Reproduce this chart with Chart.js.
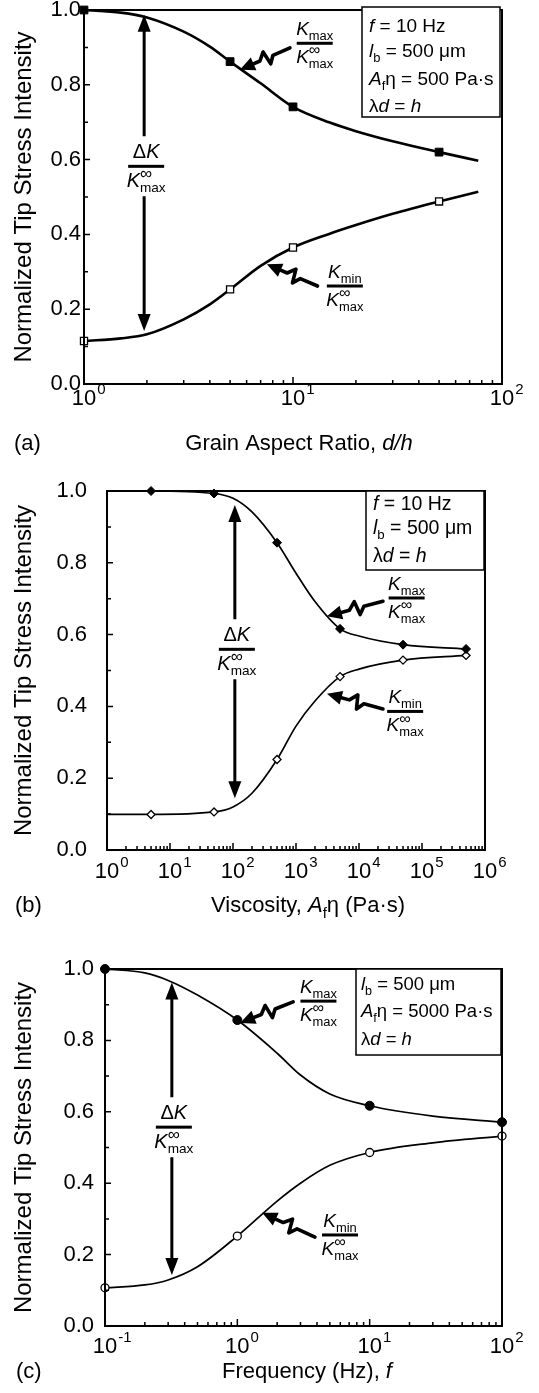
<!DOCTYPE html>
<html>
<head>
<meta charset="utf-8">
<title>Normalized Tip Stress Intensity</title>
<script src="https://cdn.jsdelivr.net/npm/chart.js@4.4.1/dist/chart.umd.min.js"></script>
<style>
  body { margin: 0; background: #fff; }
  #page { position: relative; width: 539px; height: 1393px; overflow: hidden; background: #fff; }
  canvas { position: absolute; left: 0; }
</style>
</head>
<body>
<div id="page">
  <canvas id="chartA" width="539" height="480" style="top:-20px"></canvas>
  <canvas id="chartB" width="539" height="460" style="top:460px"></canvas>
  <canvas id="chartC" width="539" height="473" style="top:920px"></canvas>
</div>
<script>
// (a) Grain aspect ratio d/h - puntos con marcador
const aspectPointsX = [1, 5, 10, 50];
const aspectPointsKmax = [1.0, 0.862, 0.741, 0.620];
const aspectPointsKmin = [0.115, 0.253, 0.365, 0.488];
// (a) curva continua
const aspectCurveX = [1, 1.5, 2, 3, 4, 5, 7, 10, 15, 20, 30, 50, 77];
const aspectCurveKmax = [1.0, 0.993, 0.980, 0.942, 0.902, 0.862, 0.804, 0.741, 0.699, 0.676, 0.649, 0.620, 0.597];
const aspectCurveKmin = [0.115, 0.122, 0.133, 0.173, 0.213, 0.253, 0.316, 0.365, 0.402, 0.425, 0.455, 0.488, 0.514];

// (b) Viscosity A_f eta (Pa s)
const viscPointsX = [5, 50, 500, 5000, 5e4, 5e5];
const viscPointsKmax = [1.0, 0.993, 0.856, 0.616, 0.572, 0.560];
const viscPointsKmin = [0.099, 0.106, 0.252, 0.483, 0.529, 0.542];
const viscCurveX = [1, 5, 50, 100, 200, 500, 1000, 2000, 5000, 1e4, 5e4, 5e5];
const viscCurveKmax = [1.0, 1.0, 0.993, 0.980, 0.942, 0.856, 0.771, 0.692, 0.616, 0.596, 0.572, 0.560];
const viscCurveKmin = [0.099, 0.099, 0.106, 0.120, 0.158, 0.252, 0.345, 0.415, 0.483, 0.504, 0.529, 0.542];

// (c) Frequency f (Hz)
const freqPointsX = [0.1, 1, 10, 100];
const freqPointsKmax = [1.0, 0.857, 0.617, 0.571];
const freqPointsKmin = [0.107, 0.252, 0.486, 0.532];
const freqCurveX = [0.1, 0.2, 0.3, 0.5, 1, 2, 3, 5, 10, 30, 100];
const freqCurveKmax = [1.0, 0.989, 0.968, 0.927, 0.857, 0.764, 0.703, 0.650, 0.617, 0.588, 0.571];
const freqCurveKmin = [0.107, 0.115, 0.129, 0.166, 0.252, 0.350, 0.400, 0.450, 0.486, 0.513, 0.532];

// Etiquetas y marcas de los ejes
const yMajorTicks = [0, 0.2, 0.4, 0.6, 0.8, 1.0];
const yMinorTicks = [0.1, 0.3, 0.5, 0.7, 0.9];
const logMinor = [2, 3, 4, 5, 6, 7, 8, 9];
const aspectExps = [0, 1, 2];
const viscExps = [0, 1, 2, 3, 4, 5, 6];
const freqExps = [-1, 0, 1, 2];

const FONT = '"Liberation Sans", Arial, Helvetica, sans-serif';

// Textos con cursiva / subindice
const KMAX_NUM = [{ t: 'K', i: 1 }, { t: 'max', sub: 1 }];
const KMIN_NUM = [{ t: 'K', i: 1 }, { t: 'min', sub: 1 }];
const KINF_DEN = [{ t: 'K', i: 1 }, { stack: ['\u221E', 'max'] }];
const DK_NUM = ['\u0394', { t: 'K', i: 1 }];
const LINE_F = [{ t: 'f', i: 1 }, ' = 10 Hz'];
const LINE_LB = [{ t: 'l', i: 1 }, { t: 'b', sub: 1 }, ' = 500 \u03BCm'];
const LINE_LD = ['\u03BB', { t: 'd', i: 1 }, ' = ', { t: 'h', i: 1 }];

const setFont = (ctx, size, italic) => {
    ctx.font = (italic ? 'italic ' : '') + size + 'px ' + FONT;
}

const segWidth = (ctx, s, size) => {
    if (typeof s === 'string') { setFont(ctx, size, false); return ctx.measureText(s).width; }
    if (s.stack) {
        setFont(ctx, size * 0.85, false);
        const wTop = ctx.measureText(s.stack[0]).width;
        setFont(ctx, size * 0.68, false);
        return Math.max(wTop, ctx.measureText(s.stack[1]).width);
    }
    setFont(ctx, (s.sub || s.sup) ? size * 0.68 : size, s.i);
    return ctx.measureText(s.t).width;
}

//Dibuja texto mixto (cursiva, subindices) sobre la linea base y
const drawRich = (ctx, segs, x, y, size, align) => {
    const w = segs.reduce((acc, s) => acc + segWidth(ctx, s, size), 0);
    if (align === 'center') x -= w / 2;
    else if (align === 'right') x -= w;
    ctx.textAlign = 'left';
    ctx.textBaseline = 'alphabetic';
    ctx.fillStyle = '#000';
    segs.forEach(s => {
        const sw = segWidth(ctx, s, size);
        if (typeof s === 'string') ctx.fillText(s, x, y);
        else if (s.stack) {
            setFont(ctx, size * 0.85, false);
            ctx.fillText(s.stack[0], x, y - size * 0.40);
            setFont(ctx, size * 0.68, false);
            ctx.fillText(s.stack[1], x, y + size * 0.26);
        }
        else ctx.fillText(s.t, x, y + (s.sub ? size * 0.26 : s.sup ? -size * 0.42 : 0));
        x += sw;
    });
    return w;
}

const drawFraction = (ctx, cx, cy, num, den, size, barW) => {
    ctx.fillStyle = '#000';
    ctx.fillRect(cx - barW / 2, cy - 1.5, barW, 3);
    drawRich(ctx, num, cx, cy - 8, size, 'center');
    drawRich(ctx, den, cx, cy + size * 0.72 + 6, size, 'center');
}

const arrowHead = (ctx, tipX, tipY, ux, uy, len, half) => {
    ctx.beginPath();
    ctx.moveTo(tipX, tipY);
    ctx.lineTo(tipX - ux * len - uy * half, tipY - uy * len + ux * half);
    ctx.lineTo(tipX - ux * len + uy * half, tipY - uy * len - ux * half);
    ctx.closePath();
    ctx.fill();
}

//Flecha en zigzag que apunta a la curva
const drawZigArrow = (ctx, tail, tip) => {
    const dx = tip[0] - tail[0], dy = tip[1] - tail[1], L = Math.hypot(dx, dy);
    const ux = dx / L, uy = dy / L, nx = -uy, ny = ux;
    const at = (f, o) => [tail[0] + ux * L * f + nx * o, tail[1] + uy * L * f + ny * o];
    const head = 15;
    ctx.lineWidth = 3.6;
    ctx.lineJoin = 'round';
    ctx.lineCap = 'round';
    ctx.beginPath();
    ctx.moveTo(tail[0], tail[1]);
    [at(0.34, 0), at(0.44, -7), at(0.48, 7), at(0.60, 0)].forEach(p => ctx.lineTo(p[0], p[1]));
    ctx.lineTo(tip[0] - ux * (head - 2), tip[1] - uy * (head - 2));
    ctx.stroke();
    arrowHead(ctx, tip[0], tip[1], ux, uy, head, 7);
}

const drawDoubleArrow = (ctx, x, yTop, yBot, yMid) => {
    const head = 17, gap = 30;
    ctx.lineWidth = 3;
    ctx.lineCap = 'butt';
    ctx.beginPath();
    ctx.moveTo(x, yTop + head - 2); ctx.lineTo(x, yMid - gap);
    ctx.moveTo(x, yMid + gap); ctx.lineTo(x, yBot - head + 2);
    ctx.stroke();
    arrowHead(ctx, x, yTop, 0, -1, head, 6.5);
    arrowHead(ctx, x, yBot, 0, 1, head, 6.5);
}

//Plugin con marco, marcas hacia dentro, etiquetas y anotaciones de cada panel
const makeDecor = (spec) => ({
    id: 'decor' + spec.id,
    afterDraw(chart) {
        const ctx = chart.ctx, a = chart.chartArea;
        const xs = chart.scales.x, ys = chart.scales.y;
        const px = v => xs.getPixelForValue(v), py = v => ys.getPixelForValue(v);
        const off = spec.canvasTop;
        ctx.save();
        ctx.strokeStyle = '#000';
        ctx.fillStyle = '#000';

        ctx.lineWidth = spec.frameWidth;
        ctx.strokeRect(a.left, a.top, a.right - a.left, a.bottom - a.top);

        ctx.lineWidth = 1.5;
        ctx.beginPath();
        yMajorTicks.forEach(v => { ctx.moveTo(a.left, py(v)); ctx.lineTo(a.left + 6, py(v)); });
        yMinorTicks.forEach(v => { ctx.moveTo(a.left, py(v)); ctx.lineTo(a.left + 4, py(v)); });
        spec.exps.forEach((e, k) => {
            const d = Math.pow(10, e);
            ctx.moveTo(px(d), a.bottom); ctx.lineTo(px(d), a.bottom - 7);
            if (k < spec.exps.length - 1) {
                logMinor.forEach(m => {
                    const x = px(d * m);
                    ctx.moveTo(x, a.bottom); ctx.lineTo(x, a.bottom - 4);
                });
            }
        });
        ctx.stroke();

        // etiquetas 10^n
        spec.exps.forEach(e => {
            const x = px(Math.pow(10, e)), yb = a.bottom + spec.xLabelDrop;
            setFont(ctx, 22, false);
            ctx.textAlign = 'center';
            ctx.textBaseline = 'alphabetic';
            ctx.fillText('10', x, yb);
            const w = ctx.measureText('10').width;
            setFont(ctx, 15, false);
            ctx.textAlign = 'left';
            ctx.fillText(String(e), x + w / 2 + 1, yb - 11);
        });

        // titulos
        drawRich(ctx, spec.xTitle, spec.xTitleX, spec.xTitleY - off, 22, 'center');
        setFont(ctx, 22, false);
        ctx.textAlign = 'left';
        ctx.fillText(spec.letter, spec.letterX, spec.xTitleY - off);
        ctx.save();
        ctx.translate(spec.yTitleX, (a.top + a.bottom) / 2);
        ctx.rotate(-Math.PI / 2);
        setFont(ctx, 24, false);
        ctx.textAlign = 'center';
        ctx.textBaseline = 'middle';
        ctx.fillText('Normalized Tip Stress Intensity', 0, 0);
        ctx.restore();

        // caja de parametros
        const b = spec.box;
        const bx = a.right + b.dx - b.w, by = a.top + b.dy;
        ctx.fillStyle = '#fff';
        ctx.fillRect(bx, by, b.w, b.h);
        ctx.lineWidth = 1.5;
        ctx.strokeRect(bx, by, b.w, b.h);
        b.lines.forEach((ln, k) => drawRich(ctx, ln, bx + b.pad, by + b.base[k], b.size, 'left'));

        // flecha doble Delta K
        const dk = spec.dk;
        ctx.fillStyle = '#000';
        drawDoubleArrow(ctx, px(dk.x), py(dk.top), py(dk.bottom), py(dk.bar));
        drawFraction(ctx, px(dk.x) + 2, py(dk.bar), DK_NUM, KINF_DEN, 20, 36);

        // etiquetas Kmax y Kmin con flechas
        [[spec.kmax, KMAX_NUM], [spec.kmin, KMIN_NUM]].forEach(([n, num]) => {
            drawFraction(ctx, px(n.x), py(n.bar), num, KINF_DEN, 19, 36);
            drawZigArrow(ctx, [px(n.tail[0]), py(n.tail[1])], [px(n.tip[0]), py(n.tip[1])]);
        });
        ctx.restore();
    }
});

const xy = (xsArr, ysArr) => xsArr.map((x, i) => ({ x: x, y: ysArr[i] }));

const buildChart = (spec, px, pmax, pmin, cx, cmax, cmin) => {
    const a = spec.area;
    const H = spec.canvasHeight;
    const m = spec.marker;
    new Chart(document.getElementById(spec.id), {
        type: 'scatter',
        data: {
            datasets: [{
                data: xy(px, pmax),
                pointStyle: m.style, pointRadius: m.radius, pointHoverRadius: m.radius,
                backgroundColor: '#000', borderColor: '#000', borderWidth: 1,
                showLine: false, clip: false
            },
            {
                data: xy(px, pmin),
                pointStyle: m.style, pointRadius: m.radius - 0.5, pointHoverRadius: m.radius - 0.5,
                backgroundColor: '#fff', borderColor: '#000', borderWidth: 1.3,
                showLine: false, clip: false
            },
            {
                data: xy(cx, cmax), showLine: true, pointRadius: 0,
                borderColor: '#000', borderWidth: spec.curveWidth,
                cubicInterpolationMode: 'monotone', clip: false
            },
            {
                data: xy(cx, cmin), showLine: true, pointRadius: 0,
                borderColor: '#000', borderWidth: spec.curveWidth,
                cubicInterpolationMode: 'monotone', clip: false
            }]
        },
        options: {
            responsive: false,
            animation: false,
            events: [],
            layout: { padding: { left: 0, top: a.top - spec.canvasTop, right: 539 - a.right, bottom: 0 } },
            plugins: { legend: { display: false }, tooltip: { enabled: false } },
            scales: {
                x: {
                    type: 'logarithmic', min: spec.xMin, max: spec.xMax,
                    grid: { display: false }, border: { display: false },
                    ticks: { display: false },
                    afterFit: s => { s.height = H - (a.bottom - spec.canvasTop); }
                },
                y: {
                    type: 'linear', min: 0, max: 1,
                    grid: { display: false, drawTicks: false }, border: { display: false },
                    ticks: {
                        stepSize: 0.2, padding: spec.yPad, color: '#000',
                        font: { family: FONT, size: 22, lineHeight: 1 },
                        callback: v => v.toFixed(1)
                    },
                    afterFit: s => { s.width = a.left; }
                }
            }
        },
        plugins: [makeDecor(spec)]
    });
}

// Panel (a)
buildChart({
    id: 'chartA', canvasTop: -20, canvasHeight: 480,
    area: { left: 84, right: 502, top: 10, bottom: 384 },
    xMin: 1, xMax: 100, exps: aspectExps, yPad: 3, xLabelDrop: 21,
    curveWidth: 2.6, frameWidth: 2, marker: { style: 'rect', radius: 5.5 },
    xTitle: ['Grain Aspect Ratio, ', { t: 'd/h', i: 1 }], xTitleX: 299, xTitleY: 450,
    letter: '(a)', letterX: 14, yTitleX: 24,
    box: {
        w: 138, h: 110, dx: -2, dy: -3, pad: 7, size: 19, base: [25, 50, 78, 105],
        lines: [LINE_F, LINE_LB, [{ t: 'A', i: 1 }, { t: 'f', sub: 1 }, '\u03B7 = 500 Pa\u00B7s'], LINE_LD]
    },
    dk: { x: 1.94, top: 0.987, bottom: 0.142, bar: 0.582 },
    kmax: { x: 12.7, bar: 0.911, tail: [9.67, 0.899], tip: [5.57, 0.84] },
    kmin: { x: 17.7, bar: 0.262, tail: [13.1, 0.262], tip: [7.5, 0.32] }
}, aspectPointsX, aspectPointsKmax, aspectPointsKmin, aspectCurveX, aspectCurveKmax, aspectCurveKmin);

// Panel (b)
buildChart({
    id: 'chartB', canvasTop: 460, canvasHeight: 460,
    area: { left: 107, right: 485, top: 489, bottom: 850 },
    xMin: 1, xMax: 1e6, exps: viscExps, yPad: 20, xLabelDrop: 28,
    curveWidth: 1.7, frameWidth: 2, marker: { style: 'rectRot', radius: 4.5 },
    xTitle: ['Viscosity, ', { t: 'A', i: 1 }, { t: 'f', sub: 1 }, '\u03B7 (Pa\u00B7s)'], xTitleX: 308, xTitleY: 912,
    letter: '(b)', letterX: 15, yTitleX: 24,
    box: { w: 118, h: 79, dx: -1, dy: 0, pad: 7, size: 19.5, base: [19, 43, 71], lines: [LINE_F, LINE_LB, LINE_LD] },
    dk: { x: 107, top: 0.961, bottom: 0.144, bar: 0.559 },
    kmax: { x: 5.7e4, bar: 0.702, tail: [2.4e4, 0.693], tip: [3100, 0.651] },
    kmin: { x: 5.4e4, bar: 0.386, tail: [2.4e4, 0.393], tip: [3100, 0.435] }
}, viscPointsX, viscPointsKmax, viscPointsKmin, viscCurveX, viscCurveKmax, viscCurveKmin);

// Panel (c)
buildChart({
    id: 'chartC', canvasTop: 920, canvasHeight: 473,
    area: { left: 105, right: 502, top: 969, bottom: 1326 },
    xMin: 0.1, xMax: 100, exps: freqExps, yPad: 11, xLabelDrop: 27,
    curveWidth: 1.7, frameWidth: 2, marker: { style: 'circle', radius: 4.5 },
    xTitle: ['Frequency (Hz), ', { t: 'f', i: 1 }], xTitleX: 307, xTitleY: 1378,
    letter: '(c)', letterX: 16, yTitleX: 24,
    box: {
        w: 145, h: 86, dx: -1, dy: 0, pad: 5, size: 18.5, base: [21, 48, 76],
        lines: [LINE_LB, [{ t: 'A', i: 1 }, { t: 'f', sub: 1 }, '\u03B7 = 5000 Pa\u00B7s'], LINE_LD]
    },
    dk: { x: 0.32, top: 0.962, bottom: 0.143, bar: 0.557 },
    kmax: { x: 4.1, bar: 0.910, tail: [2.64, 0.908], tip: [1.05, 0.849] },
    kmin: { x: 5.97, bar: 0.255, tail: [3.86, 0.249], tip: [1.54, 0.317] }
}, freqPointsX, freqPointsKmax, freqPointsKmin, freqCurveX, freqCurveKmax, freqCurveKmin);
</script>
</body>
</html>
